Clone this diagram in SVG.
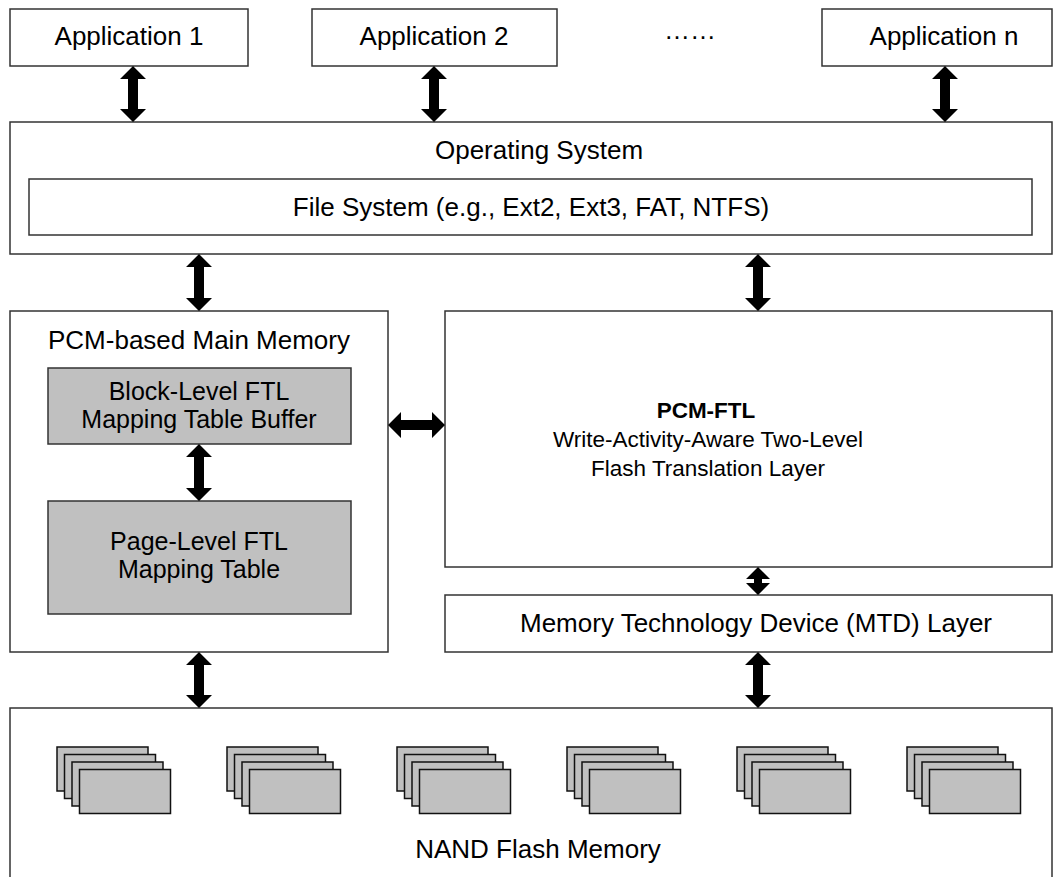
<svg xmlns="http://www.w3.org/2000/svg" width="1058" height="877" viewBox="0 0 1058 877">
  <style>
    .box { fill: #ffffff; stroke: #333333; stroke-width: 1.5; }
    .gray { fill: #c0c0c0; stroke: #333333; stroke-width: 1.5; }
    .chip { fill: #c0c0c0; stroke: #111111; stroke-width: 1.5; }
    .lbl { font-family: "Liberation Sans", Arial, sans-serif; font-size: 26px; fill: #000000; text-anchor: middle; }
    .two { font-size: 25px; }
    .sm { font-size: 22.5px; }
    .bold { font-weight: bold; }
    .arr { fill: #000000; }
  </style>
  <defs>
    <!-- one NAND flash chip stack: four offset pages -->
    <g id="chipStack">
      <rect class="chip" x="0" y="0" width="91" height="44"/>
      <rect class="chip" x="7.5" y="7.5" width="91" height="44"/>
      <rect class="chip" x="15" y="15" width="91" height="44"/>
      <rect class="chip" x="22.5" y="22.5" width="91" height="44"/>
    </g>
  </defs>

  <rect width="1058" height="877" fill="#ffffff"/>

  <g id="app1">
    <rect class="box" x="10" y="9" width="238" height="57"/>
    <text class="lbl" x="129" y="45">Application 1</text>
  </g>
  <g id="app2">
    <rect class="box" x="312" y="9" width="245" height="57"/>
    <text class="lbl" x="434" y="45">Application 2</text>
  </g>
  <g id="ellipsis">
    <text class="lbl" x="690" y="39">……</text>
  </g>
  <g id="appN">
    <rect class="box" x="822" y="9" width="230" height="57"/>
    <text class="lbl" x="944" y="45">Application n</text>
  </g>

  <g id="os">
    <rect class="box" x="10" y="122" width="1042" height="132"/>
    <text class="lbl" x="539" y="159">Operating System</text>
  </g>
  <g id="fs">
    <rect class="box" x="29" y="179" width="1003" height="56"/>
    <text class="lbl" x="531" y="216">File System (e.g., Ext2, Ext3, FAT, NTFS)</text>
  </g>

  <g id="pcmMem">
    <rect class="box" x="10" y="311" width="378" height="341"/>
    <text class="lbl" x="199" y="349">PCM-based Main Memory</text>
  </g>
  <g id="blockTable">
    <rect class="gray" x="48" y="368" width="303" height="76"/>
    <text class="lbl two" x="199" y="400">Block-Level FTL</text>
    <text class="lbl two" x="199" y="428">Mapping Table Buffer</text>
  </g>
  <g id="pageTable">
    <rect class="gray" x="48" y="501" width="303" height="113"/>
    <text class="lbl two" x="199" y="550">Page-Level FTL</text>
    <text class="lbl two" x="199" y="578">Mapping Table</text>
  </g>

  <g id="pcmFtl">
    <rect class="box" x="445" y="311" width="607" height="256"/>
    <text class="lbl sm bold" x="706" y="418">PCM-FTL</text>
    <text class="lbl sm" x="708" y="447">Write-Activity-Aware Two-Level</text>
    <text class="lbl sm" x="708" y="476">Flash Translation Layer</text>
  </g>

  <g id="mtd">
    <rect class="box" x="445" y="595" width="607" height="57"/>
    <text class="lbl" x="756" y="632">Memory Technology Device (MTD) Layer</text>
  </g>

  <g id="nand">
    <rect class="box" x="10" y="708" width="1042" height="190"/>
    <use href="#chipStack" x="57" y="747"/>
    <use href="#chipStack" x="227" y="747"/>
    <use href="#chipStack" x="397" y="747"/>
    <use href="#chipStack" x="567" y="747"/>
    <use href="#chipStack" x="737" y="747"/>
    <use href="#chipStack" x="907" y="747"/>
    <text class="lbl" x="538" y="858">NAND Flash Memory</text>
  </g>

  <!-- double-headed block arrows between layers -->
  <g id="connectors">
    <path class="arr" d="M133,66 L146,79 L138,79 L138,109 L146,109 L133,122 L120,109 L128,109 L128,79 L120,79 Z"/>
    <path class="arr" d="M434,66 L447,79 L439,79 L439,109 L447,109 L434,122 L421,109 L429,109 L429,79 L421,79 Z"/>
    <path class="arr" d="M945,66 L958,79 L950,79 L950,109 L958,109 L945,122 L932,109 L940,109 L940,79 L932,79 Z"/>
    <path class="arr" d="M199,254 L212,267 L204,267 L204,298 L212,298 L199,311 L186,298 L194,298 L194,267 L186,267 Z"/>
    <path class="arr" d="M758,254 L771,267 L763,267 L763,298 L771,298 L758,311 L745,298 L753,298 L753,267 L745,267 Z"/>
    <path class="arr" d="M199,444 L212,457 L204,457 L204,488 L212,488 L199,501 L186,488 L194,488 L194,457 L186,457 Z"/>
    <path class="arr" d="M388,425 L401,412 L401,420 L432,420 L432,412 L445,425 L432,438 L432,430 L401,430 L401,438 Z"/>
    <path class="arr" d="M758,567 L770,579 L762,579 L762,583 L770,583 L758,595 L746,583 L754,583 L754,579 L746,579 Z"/>
    <path class="arr" d="M758,652 L771,665 L763,665 L763,695 L771,695 L758,708 L745,695 L753,695 L753,665 L745,665 Z"/>
    <path class="arr" d="M199,652 L212,665 L204,665 L204,695 L212,695 L199,708 L186,695 L194,695 L194,665 L186,665 Z"/>
  </g>
</svg>
